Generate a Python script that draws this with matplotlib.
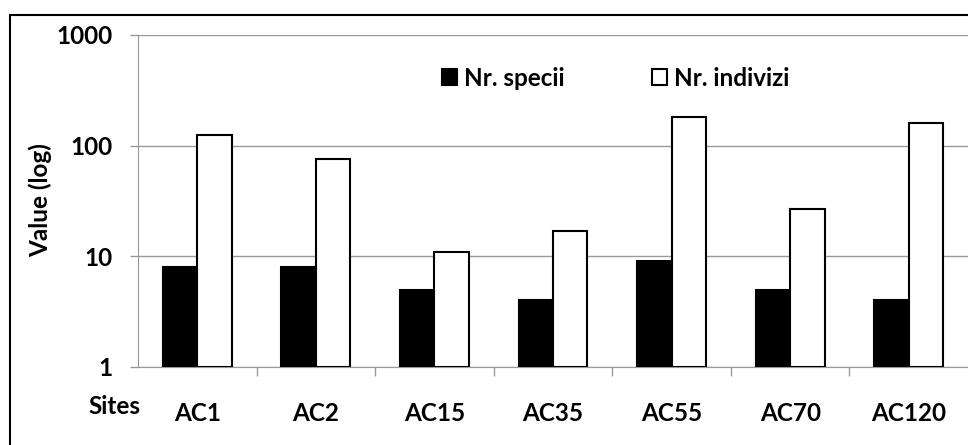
import numpy as np
import matplotlib
matplotlib.use("Agg")
import matplotlib.pyplot as plt
from matplotlib.patches import Rectangle

sites = ["AC1", "AC2", "AC15", "AC35", "AC55", "AC70", "AC120"]
nr_specii = [8, 8, 5, 4, 9, 5, 4]
nr_indivizi = [125, 76, 11, 17, 181, 27, 160]

plt.rcParams['font.family'] = ['Lato', 'DejaVu Sans']
plt.rcParams['font.weight'] = 'bold'

W, H = 968, 445
fs = 17.5
fig = plt.figure(figsize=(W / 100, H / 100), dpi=100)
ax = fig.add_axes([138 / W, 1 - 367 / H, 1 - 138 / W, (367 - 35) / H])

x = np.arange(len(sites))
bw = 0.29
# bars start at the 1 baseline of the log axis
ax.bar(x - bw / 2, np.array(nr_specii) - 1, bw, bottom=1, color='black', edgecolor='black',
       linewidth=1.5, label="Nr. specii", zorder=3)
ax.bar(x + bw / 2, np.array(nr_indivizi) - 1, bw, bottom=1, color='white', edgecolor='black',
       linewidth=1.5, label="Nr. indivizi", zorder=3)

ax.set_yscale('log')
ax.set_ylim(1, 1000)
ax.set_xlim(-0.5, len(sites) - 0.5)
ax.set_yticks([1, 10, 100, 1000])
ax.set_yticklabels(["1", "10", "100", "1000"])
ax.yaxis.set_minor_locator(matplotlib.ticker.NullLocator())
ax.grid(axis='y', color='#999999', linewidth=1, zorder=0)

ax.set_xticks(x)
ax.set_xticklabels(sites)
ax.set_xticks(x[:-1] + 0.5, minor=True)
ax.tick_params(axis='x', which='major', length=0, pad=25, labelsize=fs)
ax.tick_params(axis='x', which='minor', length=6.5, color='#999999', width=1)
ax.tick_params(axis='y', length=6, color='#999999', width=1, pad=12, labelsize=fs)

for s in ['top', 'right']:
    ax.spines[s].set_visible(False)
for s in ['left', 'bottom']:
    ax.spines[s].set_color('#999999')

fig.text(40 / W, 1 - 200 / H, "Value (log)", rotation=90, va='center', ha='center', fontsize=fs)
fig.text(88 / W, 1 - 407 / H, "Sites", va='center', ha='left', fontsize=fs)

ax.legend(loc='center left', bbox_to_anchor=(442 / W, 1 - 78 / H), bbox_transform=fig.transFigure,
          ncol=2, frameon=False, fontsize=fs, handlelength=0.6, handleheight=0.6,
          handletextpad=0.3, columnspacing=3.6, borderpad=0, borderaxespad=0)

# outer chart frame
fig.patches.append(Rectangle((10 / W, -0.1), 1.2, 1 - 15 / H + 0.1, transform=fig.transFigure,
                             fill=False, edgecolor='black', linewidth=1.5, clip_on=False))

fig.savefig("out.png", dpi=100)
